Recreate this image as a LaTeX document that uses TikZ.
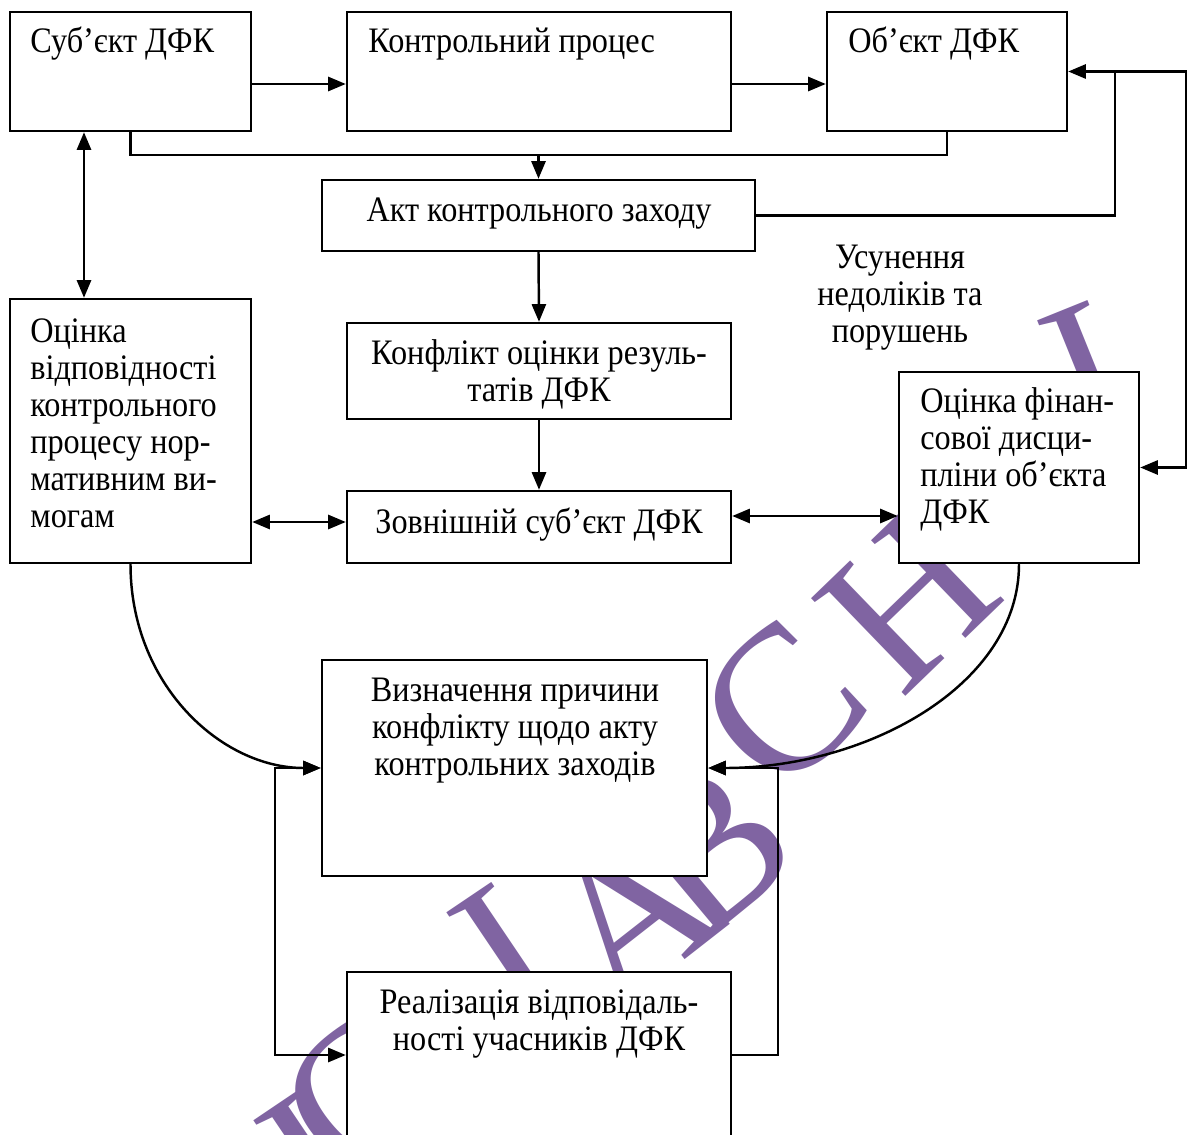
\documentclass[tikz,border=0pt]{standalone}
\usepackage{fontspec}
\setmainfont{Liberation Serif}[FakeStretch=0.90]
\newfontfamily\wmfont{Liberation Serif}
\usetikzlibrary{arrows.meta,fit,calc}
\definecolor{wmpurple}{RGB}{128,100,162}
\tikzset{
  box/.style={draw, line width=1.4pt, fill=white, inner sep=0pt, rectangle},
  lbl/.style={inner sep=0pt, font=\fontsize{20.4}{21}\selectfont},
  tip/.tip={Triangle[length=10pt,width=8pt]},
  wire/.style={line width=1.4pt},
  arr/.style={wire, -tip},
  darr/.style={wire, tip-tip},
  wm/.style={text=wmpurple, font=\wmfont\fontsize{118}{118}\selectfont, inner sep=0pt},
}
\begin{document}
\begin{tikzpicture}[x=0.02cm,y=-0.02cm]
\clip (0,0) rectangle (1190,1135);
\fill[white] (0,0) rectangle (1190,1135);

% watermark letters
\node[wm, rotate=34] (w0) at (314,1162) {І};
\node[wm, rotate=40] (w1) at (362,1098) {С};
\node[wm, rotate=34] (w2) at (507,954) {І};
\node[wm, rotate=38] (w3) at (630,915) {А};
\node[wm, rotate=40] (w4) at (710,850) {В};
\node[wm, rotate=44] (w5) at (782,705) {С};
\node[wm, rotate=44] (w6) at (908,600) {Н};
\node[wm, rotate=22] (w7) at (1088,374) {І};

% helper levels
\coordinate (yA) at (0,84);
\coordinate (bus) at (0,155);
\coordinate (j) at (1115,0);
\coordinate (r) at (1186,0);
\coordinate (yB) at (0,522);
\coordinate (yC) at (0,516);
\coordinate (xD) at (84,0);
\coordinate (xL) at (275,0);
\coordinate (xR) at (778,0);
\coordinate (yE) at (0,1055);

% boxes
\node[box, fit={(10,12) (251,131)}] (sub) {};
\node[box, fit={(347,12) (731,131)}] (proc) {};
\node[box, fit={(827,12) (1067,131)}] (obj) {};
\node[box, fit={(322,180) (755,251)}] (akt) {};
\node[box, fit={(347,323) (731,419)}] (konf) {};
\node[box, fit={(347,491) (731,563)}] (zov) {};
\node[box, fit={(10,299) (251,563)}] (otsv) {};
\node[box, fit={(899,372) (1139,563)}] (fin) {};
\node[box, fit={(322,660) (707,876)}] (viz) {};
\node[box, fit={(347,972) (731,1138)}] (real) {};

% texts (anchor base = baseline of the last line)
\node[lbl, anchor=base west] (t1) at (30,53) {Суб’єкт ДФК};
\node[lbl, anchor=base west] (t2) at (368,53) {Контрольний процес};
\node[lbl, anchor=base west] (t3) at (848,53) {Об’єкт ДФК};
\node[lbl, anchor=base] (t4) at (539,222) {Акт контрольного заходу};
\node[lbl, anchor=base, align=center] (t5) at (900,342) {Усунення\\недоліків та\\порушень};
\node[lbl, anchor=base, align=center] (t6) at (539,401) {Конфлікт оцінки резуль-\\татів ДФК};
\node[lbl, anchor=base] (t7) at (539,533) {Зовнішній суб’єкт ДФК};
\node[lbl, anchor=base west, align=left] (t8) at (30,527) {Оцінка\\відповідності\\контрольного\\процесу нор-\\мативним ви-\\могам};
\node[lbl, anchor=base west, align=left] (t9) at (920,523) {Оцінка фінан-\\сової дисци-\\пліни об’єкта\\ДФК};
\node[lbl, anchor=base, align=center] (t10) at (515,775) {Визначення причини\\конфлікту щодо акту\\контрольних заходів};
\node[lbl, anchor=base, align=center] (t11) at (539,1050) {Реалізація відповідаль-\\ності учасників ДФК};

% connectors
\draw[arr] (sub.east |- yA) -- (proc.west |- yA);
\draw[arr] (proc.east |- yA) -- (obj.west |- yA);
\draw[wire] (sub.south) |- (obj.south |- bus) -- (obj.south);
\draw[arr] (akt.north |- bus) -- (akt.north);
\draw[arr] (akt.east) -| (j |- obj.east) -- (obj.east);
\draw[arr] (j |- obj.east) -- (r |- obj.east) |- (fin.east);
\draw[arr] (akt.south) -- (konf.north);
\draw[arr] (konf.south) -- (zov.north);
\draw[darr] (otsv.east |- yB) -- (zov.west |- yB);
\draw[darr] (zov.east |- yC) -- (fin.west |- yC);
\draw[darr] (sub.south -| xD) -- (otsv.north -| xD);
\draw[arr] (otsv.south) .. controls +(0,120) and +(-100,0) .. (viz.west);
\draw[arr] (fin.south) .. controls +(0,120) and +(160,0) .. (viz.east);
\draw[darr] (viz.west) -- (xL |- viz.west) |- (real.west |- yE);
\draw[arr] (real.east) -| (xR |- viz.east) -- (viz.east);
\end{tikzpicture}
\end{document}
